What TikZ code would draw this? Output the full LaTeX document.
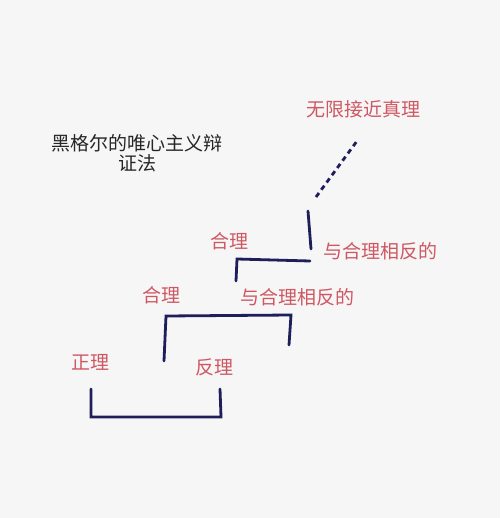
\documentclass[tikz,border=0pt]{standalone}
\usepackage{fontspec}
\newfontfamily\cjk{Noto Sans CJK SC}
\definecolor{bg}{RGB}{246,246,247}
\definecolor{rose}{RGB}{206,88,98}
\definecolor{navy}{RGB}{30,30,90}
\begin{document}
\begin{tikzpicture}[x=1pt,y=-1pt,
  lbl/.style={text=rose,font=\cjk\fontsize{19}{21}\selectfont,inner sep=0pt},
  ttl/.style={text=black!85,font=\cjk\fontsize{19}{20.5}\selectfont,align=center,inner sep=0pt},
  bar/.style={draw=navy,line width=2.8pt,line cap=round}]
\fill[bg] (0,0) rectangle (500,518);
\useasboundingbox (0,0) rectangle (500,518);
\node[ttl] (title) at (137,153) {黑格尔的唯心主义辩\\证法};
\node[lbl] (zl) at (90,362) {正理};
\node[lbl] (fl) at (214,367) {反理};
\node[lbl] (hl1) at (161,295) {合理};
\node[lbl] (yf1) at (297,297) {与合理相反的};
\node[lbl] (hl2) at (229,241) {合理};
\node[lbl] (yf2) at (380,251) {与合理相反的};
\node[lbl] (zhen) at (363,109) {无限接近真理};
\coordinate (a1) at (91,389);
\coordinate (a2) at (91,417);
\coordinate (a3) at (221,417);
\coordinate (a4) at (220,389);
\coordinate (b1) at (164,361);
\coordinate (b2) at (166,316);
\coordinate (b3) at (291,315);
\coordinate (b4) at (289,345);
\coordinate (c1) at (236,281);
\coordinate (c2) at (237,259);
\coordinate (c3) at (310,261);
\coordinate (d1) at (308,211);
\coordinate (d2) at (311,249);
\coordinate (e1) at (316,197);
\coordinate (e2) at (357,141);
\draw[bar] (a1) -- (a2) -- (a3) -- (a4);
\draw[bar] (b1) -- (b2) -- (b3) -- (b4);
\draw[bar] (c1) -- (c2) -- (c3);
\draw[bar] (d1) -- (d2);
\draw[bar,line cap=butt,dash pattern=on 5pt off 4pt] (e1) -- (e2);
\end{tikzpicture}
\end{document}
